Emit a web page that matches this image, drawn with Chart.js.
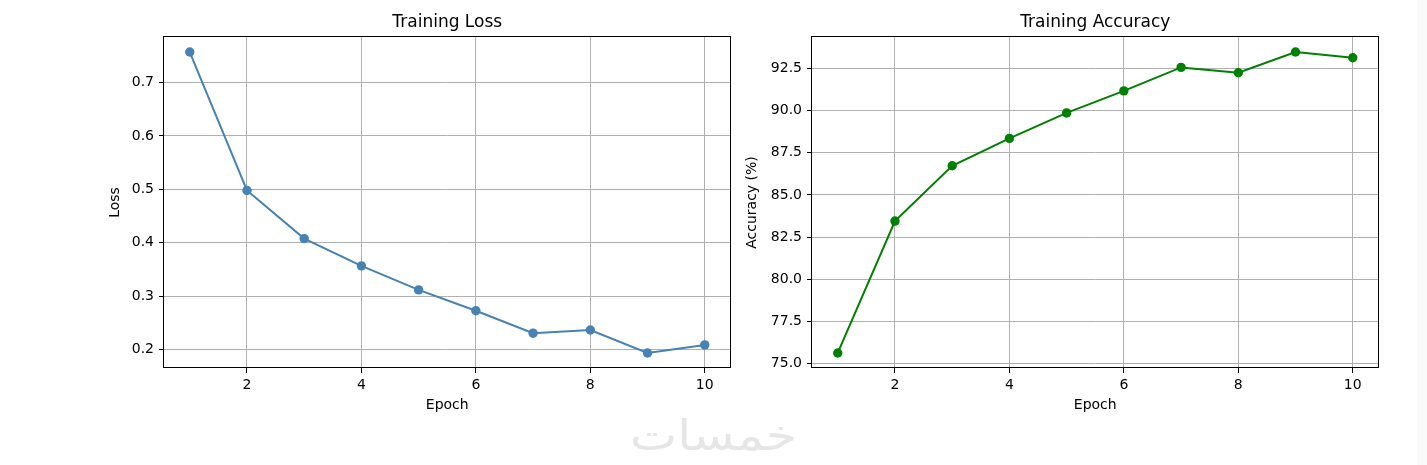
<!DOCTYPE html>
<html>
<head>
<meta charset="utf-8">
<script src="https://cdn.jsdelivr.net/npm/chart.js@4.4.1/dist/chart.umd.min.js"></script>
<style>
  body { margin: 0; background: #fff; width: 1427px; height: 465px; overflow: hidden; position: relative; }
  .box { position: absolute; top: 0; height: 465px; }
  #lossBox { left: 0; width: 740px; }
  #accBox { left: 740px; width: 687px; }
  #mark { position: absolute; left: 630px; top: 415px; line-height: 42px; white-space: nowrap;
          font-family: "DejaVu Sans"; font-weight: normal; font-size: 42px; color: #e6e6e6;
          transform-origin: 0 0; }
  #strip { position: absolute; left: 1417px; top: 0; width: 10px; height: 465px; background: #fafafa; }
</style>
</head>
<body>
<div class="box" id="lossBox"><canvas id="lossChart"></canvas></div>
<div class="box" id="accBox"><canvas id="accChart"></canvas></div>
<span id="mark">خمسات</span>
<div id="strip"></div>
<script>
var epochs = [1, 2, 3, 4, 5, 6, 7, 8, 9, 10];
var lossValues = [0.757, 0.498, 0.408, 0.357, 0.312, 0.273, 0.231, 0.237, 0.194, 0.209];
var accValues = [75.63, 83.45, 86.73, 88.35, 89.86, 91.17, 92.56, 92.24, 93.47, 93.13];
var epochTicks = [2, 4, 6, 8, 10];
var lossTicks = [0.2, 0.3, 0.4, 0.5, 0.6, 0.7];
var accTicks = [75, 77.5, 80, 82.5, 85, 87.5, 90, 92.5];

var fontFamily = '"DejaVu Sans", sans-serif';
var textColor = '#000';

// draws the box round the plot area, like the matplotlib spines
var framePlugin = {
    id: 'frame',
    afterDraw: function (chart) {
        var a = chart.chartArea;
        var ctx = chart.ctx;
        ctx.save();
        ctx.strokeStyle = '#000';
        ctx.lineWidth = 1;
        ctx.strokeRect(Math.round(a.left) - 0.5, Math.round(a.top) - 0.5,
            Math.round(a.right - a.left), Math.round(a.bottom - a.top));
        ctx.restore();
    }
};

function autoRange(values) {
    var lo = Math.min.apply(null, values);
    var hi = Math.max.apply(null, values);
    var pad = (hi - lo) * 0.05;
    return { min: lo - pad, max: hi + pad };
}

function gridOpts() {
    return {
        color: '#b0b0b0',
        lineWidth: 1,
        drawTicks: true,
        tickLength: 5,
        tickColor: '#000',
        tickWidth: 1
    };
}

function createChart(canvasId, values, yTicks, decimals, color, titleText, yLabel, yAxisWidth, yTitlePad, padRight) {
    var ctx = document.getElementById(canvasId).getContext('2d');
    var range = autoRange(values);
    var points = epochs.map(function (e, i) { return { x: e, y: values[i] }; });

    return new Chart(ctx, {
        type: 'line',
        data: {
            datasets: [{
                data: points,
                borderColor: color,
                backgroundColor: color,
                borderWidth: 2,
                tension: 0,
                fill: false,
                pointRadius: 4.7,
                pointHoverRadius: 4.7,
                pointBorderWidth: 0,
                pointBackgroundColor: color
            }]
        },
        options: {
            responsive: true,
            maintainAspectRatio: false,
            animation: false,
            layout: { padding: { left: 0, right: padRight, top: 0, bottom: 0 } },
            plugins: {
                legend: { display: false },
                tooltip: { enabled: false },
                title: {
                    display: true,
                    text: titleText,
                    fullSize: false,
                    color: textColor,
                    font: { family: fontFamily, size: 17, weight: 'normal' },
                    padding: { top: 12, bottom: 4.6 }
                }
            },
            scales: {
                x: {
                    type: 'linear',
                    min: 0.55,
                    max: 10.45,
                    afterBuildTicks: function (s) {
                        s.ticks = epochTicks.map(function (v) { return { value: v }; });
                    },
                    afterFit: function (s) { s.height = 97; },
                    border: { display: false },
                    grid: gridOpts(),
                    ticks: {
                        color: textColor,
                        font: { family: fontFamily, size: 14 },
                        padding: 4,
                        maxRotation: 0,
                        autoSkip: false,
                        callback: function (v) { return String(v); }
                    },
                    title: {
                        display: true,
                        text: 'Epoch',
                        color: textColor,
                        font: { family: fontFamily, size: 14 },
                        padding: { top: 0, bottom: 51 }
                    }
                },
                y: {
                    type: 'linear',
                    min: range.min,
                    max: range.max,
                    afterBuildTicks: function (s) {
                        s.ticks = yTicks.map(function (v) { return { value: v }; });
                    },
                    afterFit: function (s) { s.width = yAxisWidth; },
                    border: { display: false },
                    grid: gridOpts(),
                    ticks: {
                        color: textColor,
                        font: { family: fontFamily, size: 14 },
                        padding: 5,
                        autoSkip: false,
                        callback: function (v) { return Number(v).toFixed(decimals); }
                    },
                    title: {
                        display: true,
                        text: yLabel,
                        color: textColor,
                        font: { family: fontFamily, size: 14 },
                        padding: { top: yTitlePad, bottom: 0 }
                    }
                }
            }
        },
        plugins: [framePlugin]
    });
}

createChart('lossChart', lossValues, lossTicks, 1, '#4682b4', 'Training Loss', 'Loss', 164, 106.6, 9.5);
createChart('accChart', accValues, accTicks, 1, '#008000', 'Training Accuracy', 'Accuracy (%)', 72, 4.1, 48.5);

// stretch the faint watermark to the width it has in the picture
var mark = document.getElementById('mark');
var w = mark.getBoundingClientRect().width;
mark.style.transform = 'scaleX(' + (167 / w) + ')';
</script>
</body>
</html>
